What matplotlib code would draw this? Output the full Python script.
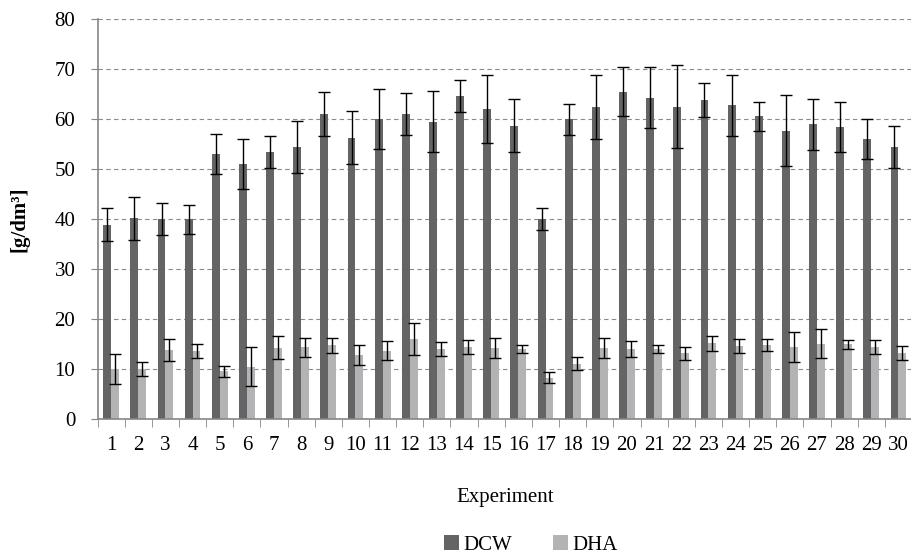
import matplotlib.pyplot as plt
import numpy as np

plt.rcParams['font.family'] = ['Liberation Serif', 'DejaVu Serif']

experiments = [str(i) for i in range(1, 31)]
dcw = [38.9, 40.2, 40.0, 40.0, 53.0, 51.0, 53.5, 54.5, 61.0, 56.3,
       60.0, 61.0, 59.5, 64.7, 62.0, 58.7, 40.0, 60.0, 62.5, 65.5,
       64.3, 62.5, 63.8, 62.8, 60.6, 57.7, 59.0, 58.5, 56.0, 54.5]
dcw_err = [3.3, 4.3, 3.2, 2.9, 4.0, 5.0, 3.2, 5.2, 4.4, 5.3,
           6.0, 4.2, 6.1, 3.2, 6.8, 5.3, 2.2, 3.1, 6.4, 4.9,
           6.1, 8.3, 3.4, 6.1, 2.9, 7.1, 5.1, 5.0, 4.0, 4.2]
dha = [10.0, 10.0, 13.8, 13.6, 9.6, 10.5, 14.3, 14.4, 14.8, 12.9,
       13.7, 16.0, 14.0, 14.4, 14.3, 14.1, 8.3, 11.1, 14.3, 14.0,
       14.0, 13.2, 15.2, 14.7, 14.9, 14.5, 15.1, 15.0, 14.5, 13.3]
dha_err = [3.0, 1.4, 2.2, 1.4, 1.1, 3.9, 2.3, 1.9, 1.5, 2.0,
           1.9, 3.2, 1.4, 1.4, 2.0, 0.8, 1.1, 1.3, 2.0, 1.6,
           0.8, 1.3, 1.5, 1.4, 1.2, 3.0, 2.9, 0.9, 1.4, 1.4]

x = np.arange(len(experiments))
w = 0.29
grey = '#868686'

fig = plt.figure(figsize=(9.12, 5.55), dpi=100)
ax = fig.add_axes([0.107, 0.245, 0.893, 0.72])

ax.bar(x - w/2, dcw, w, color='#646464', label='DCW', zorder=2,
       yerr=dcw_err, error_kw=dict(ecolor='black', elinewidth=1, capsize=4, capthick=1))
ax.bar(x + w/2, dha, w, color='#b3b3b5', label='DHA', zorder=2,
       yerr=dha_err, error_kw=dict(ecolor='black', elinewidth=1, capsize=4, capthick=1))

ax.set_xlim(-0.5, len(x) - 0.5)
ax.set_ylim(0, 80)
ax.set_yticks(range(0, 81, 10))
ax.yaxis.grid(True, linestyle=(0, (4, 3)), color='#8a8a8a', linewidth=0.8, zorder=0)
ax.set_axisbelow(True)

ax.set_xticks(x)
ax.set_xticklabels(experiments)
ax.set_xticks(np.arange(-0.5, len(x), 1), minor=True)
ax.tick_params(axis='x', which='major', length=0, pad=12, labelsize=15)
ax.tick_params(axis='x', which='minor', length=6, color=grey)
ax.tick_params(axis='y', length=5, color=grey, labelsize=15, pad=11)

for s in ['top', 'right']:
    ax.spines[s].set_visible(False)
for s in ['left', 'bottom']:
    ax.spines[s].set_color(grey)
    ax.spines[s].set_linewidth(1.2)

ax.set_xlabel('Experiment', fontsize=15, labelpad=24)
ax.set_ylabel('[g/dm³]', fontsize=15, fontweight='bold', labelpad=18)

fig.legend(loc='center', bbox_to_anchor=(0.582, 0.018), ncol=2, frameon=False,
           fontsize=15, handlelength=0.7, handleheight=0.7, handletextpad=0.2,
           columnspacing=2.0)

fig.savefig('out.png', dpi=100)
